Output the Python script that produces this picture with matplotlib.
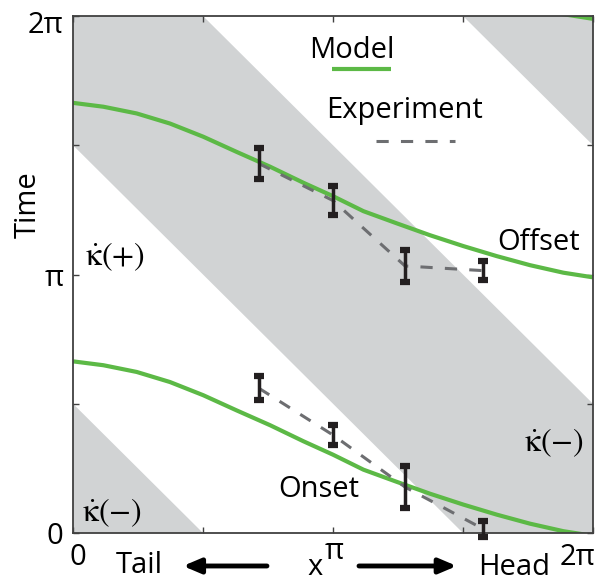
import numpy as np
import matplotlib.pyplot as plt
import matplotlib.transforms as mtransforms

plt.rcParams['font.family'] = ['Open Sans', 'DejaVu Sans']
plt.rcParams['mathtext.fontset'] = 'stix'

PI = np.pi

# model onset curve along the body (x and time in units of pi); offset = onset + pi
model_x = [0.0, 0.117, 0.245, 0.373, 0.501, 0.630, 0.758, 0.886, 1.0,
           1.117, 1.245, 1.373, 1.501, 1.630, 1.758, 1.886, 2.0]
model_onset = [0.664, 0.649, 0.623, 0.584, 0.533, 0.474, 0.417, 0.355, 0.303,
               0.245, 0.198, 0.152, 0.110, 0.071, 0.036, 0.007, -0.011]

# experiment (units of pi)
exp_x = [0.715, 1.0, 1.277, 1.577]
exp_onset = [0.560, 0.379, 0.178, 0.016]
exp_onset_err = [0.046, 0.039, 0.083, 0.031]
exp_offset = [1.429, 1.286, 1.033, 1.015]
exp_offset_err = [0.060, 0.056, 0.062, 0.037]

# shaded bands: x + time between these sums (units of pi)
band_lo = [-1.0, 1.5, 3.5]
band_hi = [0.5, 2.5, 5.0]

green = '#5cb946'
gray_band = '#d1d3d4'
dash_col = '#6d6e71'
bar_col = '#231f20'

fig = plt.figure(figsize=(5.99, 5.84), dpi=100)
ax = fig.add_axes([73/599, 51/584, 520/599, 517/584])

xs = np.linspace(0, 2*PI, 200)
for lo, hi in zip(band_lo, band_hi):
    ax.fill_between(xs, lo*PI - xs, hi*PI - xs, color=gray_band, lw=0, zorder=0)

mx = np.array(model_x) * PI
on = np.array(model_onset) * PI
for shift in [0, PI, 2*PI]:
    ax.plot(mx, on + shift, color=green, lw=3, zorder=2, solid_capstyle='butt')

ex = np.array(exp_x) * PI
for yv, ye in [(exp_offset, exp_offset_err), (exp_onset, exp_onset_err)]:
    yv = np.array(yv) * PI
    ye = np.array(ye) * PI
    ax.plot(ex, yv, color=dash_col, lw=2.2, ls=(0, (4, 4)), zorder=3)
    cont = ax.errorbar(ex, yv, yerr=ye, fmt='none', ecolor=bar_col,
                       elinewidth=2.5, capsize=3.5, capthick=4.5, zorder=4)
    for a in list(cont.lines[1]) + list(cont.lines[2]):
        a.set_clip_on(False)

ax.set_xlim(0, 2*PI)
ax.set_ylim(0, 2*PI)
ticks = [0, PI/2, PI, 3*PI/2, 2*PI]
ax.set_xticks(ticks, ['0', '', 'π', '', '2π'])
ax.set_yticks(ticks, ['0', '', 'π', '', '2π'])
ax.tick_params(direction='in', length=4, width=1, color='#404040',
               labelsize=21, pad=7, top=True, right=True)
for s in ax.spines.values():
    s.set_color('#404040')
    s.set_linewidth(1.3)

def shift(lab, dx, dy):
    off = mtransforms.ScaledTranslation(dx/100, dy/100, fig.dpi_scale_trans)
    lab.set_transform(lab.get_transform() + off)

xl = ax.get_xticklabels()
shift(xl[0], 5, 0)
shift(xl[2], 1, 6)
shift(xl[4], -16, 0)
yl = ax.get_yticklabels()
shift(yl[4], 0, -6)

fs = 21
ax.text(-0.0865, 0.636, 'Time', rotation=90, ha='center', va='center',
        fontsize=fs, transform=ax.transAxes)
ax.text(0.465, -0.081, 'x', ha='center', va='baseline', fontsize=fs,
        transform=ax.transAxes)
ax.text(0.127, -0.077, 'Tail', ha='center', va='baseline', fontsize=fs,
        transform=ax.transAxes)
ax.text(0.849, -0.081, 'Head', ha='center', va='baseline', fontsize=fs,
        transform=ax.transAxes)
arrow = dict(arrowstyle='-|>,head_length=0.4,head_width=0.17', color='black',
             lw=3.5, shrinkA=0, shrinkB=0, mutation_scale=26)
ax.annotate('', xy=(0.2115, -0.0638), xytext=(0.373, -0.0638),
            xycoords='axes fraction', textcoords='axes fraction', arrowprops=arrow)
ax.annotate('', xy=(0.738, -0.0638), xytext=(0.55, -0.0638),
            xycoords='axes fraction', textcoords='axes fraction', arrowprops=arrow)

# legend
ax.text(0.537, 0.919, 'Model', ha='center', va='baseline', fontsize=fs,
        transform=ax.transAxes)
ax.plot([0.498, 0.612], [0.897, 0.897], color=green, lw=3,
        transform=ax.transAxes, solid_capstyle='butt')
ax.text(0.638, 0.803, 'Experiment', ha='center', va='baseline', fontsize=fs,
        transform=ax.transAxes)
ax.plot([0.583, 0.735], [0.758, 0.758], color=dash_col, lw=2.2, ls=(0, (4, 4)),
        transform=ax.transAxes)

ax.text(0.895, 0.547, 'Offset', ha='center', va='baseline', fontsize=fs,
        transform=ax.transAxes)
ax.text(0.472, 0.0696, 'Onset', ha='center', va='baseline', fontsize=fs,
        transform=ax.transAxes)

ax.text(0.023, 0.534, r'$\dot{\mathrm{\kappa}}(+)$', ha='left', va='center',
        fontsize=23, transform=ax.transAxes)
ax.text(0.017, 0.0387, r'$\dot{\mathrm{\kappa}}(-)$', ha='left', va='center',
        fontsize=23, transform=ax.transAxes)
ax.text(0.867, 0.174, r'$\dot{\mathrm{\kappa}}(-)$', ha='left', va='center',
        fontsize=23, transform=ax.transAxes)

fig.savefig('out.png', dpi=100)
